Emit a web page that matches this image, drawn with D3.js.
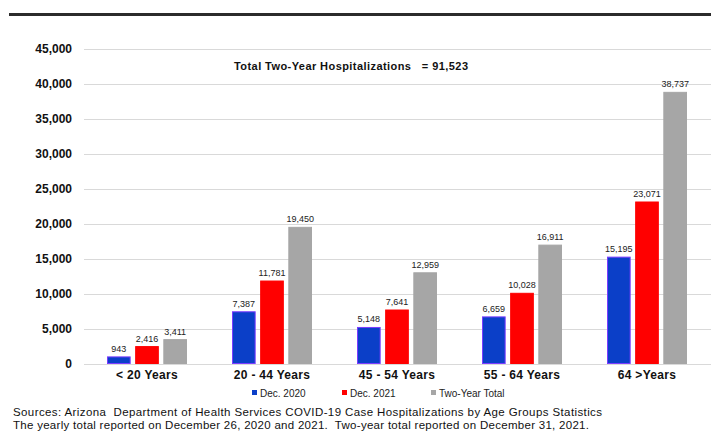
<!DOCTYPE html>
<html><head><meta charset="utf-8">
<script src="https://cdn.jsdelivr.net/npm/d3@7/dist/d3.min.js"></script>
<style>body{margin:0;background:#fff;} svg{display:block;font-family:Arial,"Liberation Sans",sans-serif;}</style>
</head><body><svg id="c" width="711" height="431"></svg>
<script>
const categories = ["< 20 Years","20 - 44 Years","45 - 54 Years","55 - 64 Years","64 >Years"];
const seriesNames = ["Dec. 2020","Dec. 2021","Two-Year Total"];
const dec2020 = [943, 7387, 5148, 6659, 15195];
const dec2021 = [2416, 11781, 7641, 10028, 23071];
const twoYear = [3411, 19450, 12959, 16911, 38737];
const yTicks = [0,5000,10000,15000,20000,25000,30000,35000,40000,45000];
const totalText = "Total Two-Year Hospitalizations   = 91,523";
const sources = ["Sources: Arizona  Department of Health Services COVID-19 Case Hospitalizations by Age Groups Statistics",
 "The yearly total reported on December 26, 2020 and 2021.  Two-year total reported on December 31, 2021."];
const colors = ["#0b3fc8","#ff0000","#a6a6a6"];
const strokes = ["#7b3cff","#ff0000","#a6a6a6"];

const svg = d3.select("#c");
const series = [dec2020, dec2021, twoYear];
const data = categories.map((c,i)=>({cat:c, vals: series.map((s,k)=>({k, v:s[i]}))}));

// top rule
svg.append("rect").attr("x",9).attr("y",13).attr("width",702).attr("height",3).attr("fill","#2b2b2b");

const y = d3.scaleLinear().domain([0,45000]).range([363.5,48.5]);
const x0 = d3.scaleBand().domain(categories).range([84.5,709.5]).padding(0);
const x1 = d3.scaleBand().domain([0,1,2]).range([0,80]).paddingInner(0.16).paddingOuter(0);

// grid
svg.append("g").selectAll("line").data(yTicks).join("line")
  .attr("x1",84).attr("x2",711).attr("y1",d=>Math.round(y(d))+0.5).attr("y2",d=>Math.round(y(d))+0.5)
  .attr("stroke","#d9d9d9").attr("stroke-width",1);

// y axis labels
const yAxis = d3.axisLeft(y).tickValues(yTicks).tickFormat(d3.format(",")).tickSize(0).tickPadding(0);
const ga = svg.append("g").attr("transform","translate(72,0)").call(yAxis);
ga.select(".domain").remove();
ga.selectAll("text").attr("font-size",12).attr("font-weight","bold").attr("fill","#111").attr("font-family","Arial, 'Liberation Sans', sans-serif");

// bars
const g = svg.append("g").selectAll("g").data(data).join("g")
  .attr("transform",d=>`translate(${x0(d.cat)+x0.bandwidth()/2-40},0)`);
g.selectAll("rect").data(d=>d.vals).join("rect")
  .attr("x",d=>x1(d.k)+0.5).attr("width",x1.bandwidth()-1)
  .attr("y",d=>y(d.v)).attr("height",d=>y(0)-y(d.v))
  .attr("fill",d=>colors[d.k]).attr("stroke",d=>strokes[d.k]).attr("stroke-width",1);
g.selectAll("text").data(d=>d.vals).join("text")
  .attr("x",d=>x1(d.k)+x1.bandwidth()/2).attr("y",d=>y(d.v)-5)
  .attr("text-anchor","middle").attr("font-size",9).attr("fill","#222")
  .text(d=>d3.format(",")(d.v));

// x labels
const xAxis = d3.axisBottom(x0).tickSize(0).tickPadding(0);
const gx = svg.append("g").attr("transform","translate(0,370)").call(xAxis);
gx.select(".domain").remove();
gx.selectAll("text").attr("font-size",12).attr("font-weight","bold").attr("fill","#111").attr("dy","0.71em")
  .attr("letter-spacing","0.3").attr("font-family","Arial, 'Liberation Sans', sans-serif");

// legend
const legX = [252, 342, 431];
const lg = svg.append("g").selectAll("g").data(seriesNames).join("g")
  .attr("transform",(d,i)=>`translate(${legX[i]},390)`);
lg.append("rect").attr("width",5).attr("height",5).attr("fill",(d,i)=>colors[i]);
lg.append("text").attr("x",8).attr("y",6.5).attr("font-size",10).attr("fill","#222").text(d=>d);

// total text
svg.append("text").attr("x",234).attr("y",70).attr("font-size",11).attr("font-weight","bold").attr("fill","#111")
  .attr("textLength",234).attr("lengthAdjust","spacing")
  .style("white-space","pre").text(totalText);

// sources
const srcLen = [589, 576];
svg.append("g").selectAll("text").data(sources).join("text")
  .attr("x",13).attr("y",(d,i)=>416+i*13).attr("font-size",11.5).attr("fill","#111")
  .attr("textLength",(d,i)=>srcLen[i]).attr("lengthAdjust","spacing")
  .style("white-space","pre").text(d=>d);
</script></body></html>
